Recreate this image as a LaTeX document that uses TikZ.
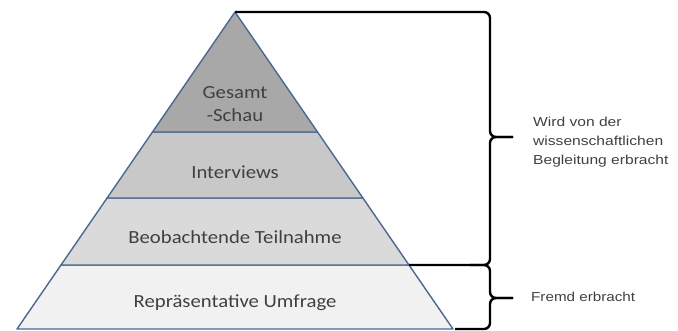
\documentclass[tikz,border=0pt]{standalone}
\usepackage{fontspec}
\setmainfont{Carlito}
\newfontfamily\arialfont{Liberation Sans}
\usetikzlibrary{calc}
\newcommand\xwide[2]{\scalebox{#1}[1]{#2}}
\definecolor{edgeblue}{RGB}{74,104,144}
\definecolor{lvlA}{RGB}{168,168,168}
\definecolor{lvlB}{RGB}{200,200,200}
\definecolor{lvlC}{RGB}{218,218,218}
\definecolor{lvlD}{RGB}{241,241,241}
\definecolor{txtgray}{RGB}{64,64,64}
\tikzset{
  layer/.style={draw=edgeblue, line width=1.4pt, line join=round},
  lvltext/.style={font=\fontsize{18.5}{24}\selectfont, text=txtgray, align=center, inner sep=0pt},
  sidetext/.style={font=\arialfont\fontsize{13}{19}\selectfont, text=txtgray, anchor=west, inner sep=0pt},
  bracket/.style={draw=black, line width=2.4pt, rounded corners=6pt, line cap=butt}
}
\begin{document}
\begin{tikzpicture}[x=1pt,y=-1pt]
\useasboundingbox (0,0) rectangle (678,331);
% pyramid corner points
\coordinate (A) at (235,12);
\coordinate (BL) at (17,329);
\coordinate (BR) at (453,329);
\coordinate (L1) at ($(A)!0.3785!(BL)$);
\coordinate (R1) at ($(A)!0.3785!(BR)$);
\coordinate (L2) at ($(A)!0.5868!(BL)$);
\coordinate (R2) at ($(A)!0.5868!(BR)$);
\coordinate (L3) at ($(A)!0.798!(BL)$);
\coordinate (R3) at ($(A)!0.798!(BR)$);
% layers
\path[layer, fill=lvlD] (L3) -- (R3) -- (BR) -- (BL) -- cycle;
\path[layer, fill=lvlC] (L2) -- (R2) -- (R3) -- (L3) -- cycle;
\path[layer, fill=lvlB] (L1) -- (R1) -- (R2) -- (L2) -- cycle;
\path[layer, fill=lvlA] (A) -- (R1) -- (L1) -- cycle;
% layer texts
\node[lvltext] (gesamt) at (235,105) {\xwide{1.12}{\begin{tabular}{@{}c@{}}Gesamt\\[-0.5pt]-Schau\end{tabular}}};
\node[lvltext] (interviews) at (235,172) {\xwide{1.12}{Interviews}};
\node[lvltext] (beob) at (235,237) {\xwide{1.12}{Beobachtende Teilnahme}};
\node[lvltext] (umfrage) at (235,303) {\xwide{1.12}{Repräsentative Umfrage}};
% braces
\coordinate (T1) at (490,12);
\coordinate (M1) at (490,137);
\coordinate (P1) at (513,137);
\coordinate (B1) at (490,265);
\coordinate (M2) at (490,298);
\coordinate (P2) at (513,298);
\coordinate (B2) at (490,329);
\coordinate (S2) at (470,265);
\coordinate (E2) at (455,329);
\draw[bracket] (A) -- (T1) -- (M1) -- (P1);
\draw[bracket] (P1) -- (M1) -- (B1) -- (R3);
\draw[bracket] (S2) -- (B1) -- (M2) -- (P2);
\draw[bracket] (P2) -- (M2) -- (B2) -- (E2);
% side texts
\node[sidetext] (wiss) at (533,142) {\xwide{1.2}{\begin{tabular}{@{}l@{}}Wird von der\\wissenschaftlichen\\Begleitung erbracht\end{tabular}}};
\node[sidetext] (fremd) at (531,297) {\xwide{1.17}{Fremd erbracht}};
\end{tikzpicture}
\end{document}
